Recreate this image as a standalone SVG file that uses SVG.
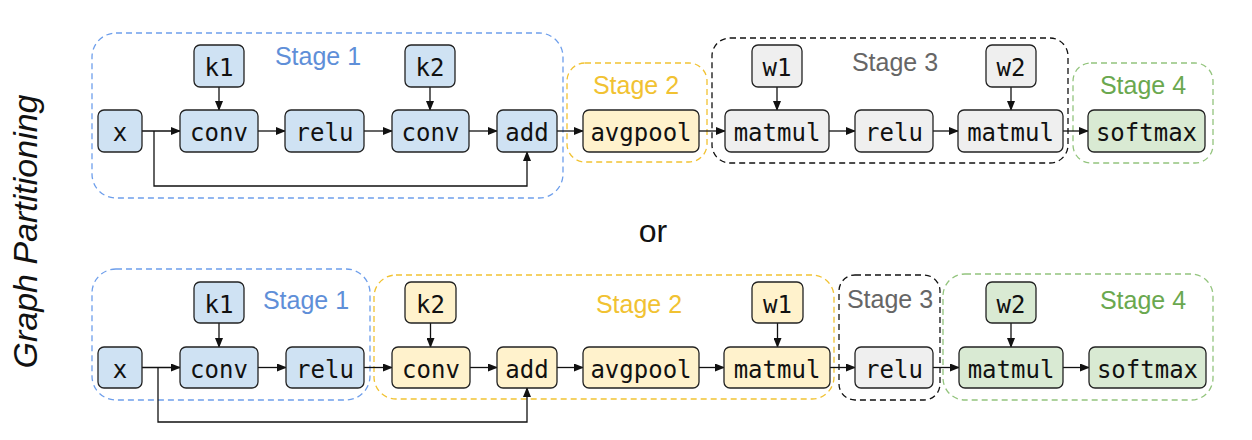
<svg xmlns="http://www.w3.org/2000/svg" width="1252" height="440" viewBox="0 0 1252 440">
<style>
.n rect{stroke:#222;stroke-width:1.3}
.n text{font-family:"DejaVu Sans Mono",monospace;font-size:24px;fill:#111;text-anchor:middle}
.b rect{fill:#cfe2f3}.y rect{fill:#fff2cc}.g rect{fill:#d9ead3}.k rect{fill:#efefef}
.st{fill:none;stroke-width:1.3;stroke-dasharray:6 4}
.lab{font-family:"Liberation Sans",Arial,sans-serif;font-size:25px;text-anchor:middle}
#conn path{fill:none;stroke:#111;stroke-width:1.3}
</style>
<defs>
<marker id="ah" markerWidth="10" markerHeight="8" refX="9" refY="4" orient="auto" markerUnits="userSpaceOnUse"><path d="M0,0 L10,4 L0,8 z" fill="#111"/></marker>
</defs>
<rect width="1252" height="440" fill="#fff"/>
<text transform="translate(36.5,231.5) rotate(-90)" font-family="'Liberation Sans',Arial,sans-serif" font-style="italic" font-size="34" text-anchor="middle" fill="#111">Graph Partitioning</text>
<text x="653" y="242" font-family="'Liberation Sans',Arial,sans-serif" font-size="32" text-anchor="middle" fill="#111">or</text>
<g id="stages">
<rect class="st" x="92" y="33" width="471" height="165" rx="24" stroke="#6d9eeb"/>
<text class="lab" x="318" y="65" fill="#5f8fd8">Stage 1</text>
<rect class="st" x="567" y="63" width="140" height="99" rx="18" stroke="#f1c232"/>
<text class="lab" x="636" y="94" fill="#f1c232">Stage 2</text>
<rect class="st" x="712" y="38" width="356" height="125" rx="18" stroke="#111"/>
<text class="lab" x="895" y="71" fill="#666">Stage 3</text>
<rect class="st" x="1073" y="63" width="140" height="100" rx="18" stroke="#93c47d"/>
<text class="lab" x="1143" y="94" fill="#6aa84f">Stage 4</text>
<rect class="st" x="92" y="269" width="278" height="131" rx="24" stroke="#6d9eeb"/>
<text class="lab" x="306" y="309" fill="#5f8fd8">Stage 1</text>
<rect class="st" x="374" y="275" width="460" height="124" rx="22" stroke="#f1c232"/>
<text class="lab" x="639" y="313" fill="#f1c232">Stage 2</text>
<rect class="st" x="839" y="275" width="101" height="125" rx="16" stroke="#111"/>
<text class="lab" x="890" y="308" fill="#666">Stage 3</text>
<rect class="st" x="943" y="274" width="270" height="126" rx="22" stroke="#93c47d"/>
<text class="lab" x="1143" y="309" fill="#6aa84f">Stage 4</text>
</g>
<g id="conn">
<path d="M142,131 H180" marker-end="url(#ah)"/>
<path d="M258,131 H285" marker-end="url(#ah)"/>
<path d="M364,131 H392" marker-end="url(#ah)"/>
<path d="M469,131 H497" marker-end="url(#ah)"/>
<path d="M557,131 H583" marker-end="url(#ah)"/>
<path d="M699,131 H725" marker-end="url(#ah)"/>
<path d="M829,131 H855" marker-end="url(#ah)"/>
<path d="M933,131 H958" marker-end="url(#ah)"/>
<path d="M1063,131 H1088" marker-end="url(#ah)"/>
<path d="M219,87 V110" marker-end="url(#ah)"/>
<path d="M430,87 V110" marker-end="url(#ah)"/>
<path d="M777,87 V110" marker-end="url(#ah)"/>
<path d="M1011,87 V110" marker-end="url(#ah)"/>
<path d="M154,131 V186 H527 V152" marker-end="url(#ah)"/>
<path d="M142,367.5 H180" marker-end="url(#ah)"/>
<path d="M258,367.5 H286" marker-end="url(#ah)"/>
<path d="M364,367.5 H392" marker-end="url(#ah)"/>
<path d="M470,367.5 H497" marker-end="url(#ah)"/>
<path d="M557,367.5 H583" marker-end="url(#ah)"/>
<path d="M699,367.5 H724" marker-end="url(#ah)"/>
<path d="M830,367.5 H855" marker-end="url(#ah)"/>
<path d="M933,367.5 H959" marker-end="url(#ah)"/>
<path d="M1063,367.5 H1089" marker-end="url(#ah)"/>
<path d="M219,323 V347" marker-end="url(#ah)"/>
<path d="M430.5,323 V347" marker-end="url(#ah)"/>
<path d="M777.5,323 V347" marker-end="url(#ah)"/>
<path d="M1011,323 V347" marker-end="url(#ah)"/>
<path d="M158,367.5 V422 H527 V388" marker-end="url(#ah)"/>
</g>
<g id="t-x" class="n b"><rect x="98" y="110" width="44" height="42" rx="6"/><text x="120" y="141">x</text></g>
<g id="t-k1" class="n b"><rect x="194" y="45" width="50" height="42" rx="6"/><text x="219" y="76">k1</text></g>
<g id="t-conv1" class="n b"><rect x="180" y="110" width="78" height="42" rx="6"/><text x="219" y="141">conv</text></g>
<g id="t-relu1" class="n b"><rect x="285" y="110" width="79" height="42" rx="6"/><text x="324.5" y="141">relu</text></g>
<g id="t-k2" class="n b"><rect x="405" y="45" width="50" height="42" rx="6"/><text x="430" y="76">k2</text></g>
<g id="t-conv2" class="n b"><rect x="392" y="110" width="77" height="42" rx="6"/><text x="430.5" y="141">conv</text></g>
<g id="t-add" class="n b"><rect x="497" y="110" width="60" height="42" rx="6"/><text x="527" y="141">add</text></g>
<g id="t-avgpool" class="n y"><rect x="583" y="110" width="116" height="42" rx="6"/><text x="641" y="141">avgpool</text></g>
<g id="t-w1" class="n k"><rect x="752" y="45" width="50" height="42" rx="6"/><text x="777" y="76">w1</text></g>
<g id="t-matmul1" class="n k"><rect x="725" y="110" width="104" height="42" rx="6"/><text x="777" y="141">matmul</text></g>
<g id="t-relu2" class="n k"><rect x="855" y="110" width="78" height="42" rx="6"/><text x="894" y="141">relu</text></g>
<g id="t-w2" class="n k"><rect x="986" y="45" width="50" height="42" rx="6"/><text x="1011" y="76">w2</text></g>
<g id="t-matmul2" class="n k"><rect x="958" y="110" width="105" height="42" rx="6"/><text x="1010.5" y="141">matmul</text></g>
<g id="t-softmax" class="n g"><rect x="1088" y="110" width="117" height="42" rx="6"/><text x="1146.5" y="141">softmax</text></g>
<g id="b-x" class="n b"><rect x="98" y="347" width="44" height="41" rx="6"/><text x="120" y="377.5">x</text></g>
<g id="b-k1" class="n b"><rect x="194" y="282" width="50" height="41" rx="6"/><text x="219" y="312.5">k1</text></g>
<g id="b-conv1" class="n b"><rect x="180" y="347" width="78" height="41" rx="6"/><text x="219" y="377.5">conv</text></g>
<g id="b-relu1" class="n b"><rect x="286" y="347" width="78" height="41" rx="6"/><text x="325" y="377.5">relu</text></g>
<g id="b-k2" class="n y"><rect x="405" y="282" width="51" height="41" rx="6"/><text x="430.5" y="312.5">k2</text></g>
<g id="b-conv2" class="n y"><rect x="392" y="347" width="78" height="41" rx="6"/><text x="431" y="377.5">conv</text></g>
<g id="b-add" class="n y"><rect x="497" y="347" width="60" height="41" rx="6"/><text x="527" y="377.5">add</text></g>
<g id="b-avgpool" class="n y"><rect x="583" y="347" width="116" height="41" rx="6"/><text x="641" y="377.5">avgpool</text></g>
<g id="b-w1" class="n y"><rect x="752" y="282" width="51" height="41" rx="6"/><text x="777.5" y="312.5">w1</text></g>
<g id="b-matmul1" class="n y"><rect x="724" y="347" width="106" height="41" rx="6"/><text x="777" y="377.5">matmul</text></g>
<g id="b-relu2" class="n k"><rect x="855" y="347" width="78" height="41" rx="6"/><text x="894" y="377.5">relu</text></g>
<g id="b-w2" class="n g"><rect x="986" y="282" width="50" height="41" rx="6"/><text x="1011" y="312.5">w2</text></g>
<g id="b-matmul2" class="n g"><rect x="959" y="347" width="104" height="41" rx="6"/><text x="1011" y="377.5">matmul</text></g>
<g id="b-softmax" class="n g"><rect x="1089" y="347" width="117" height="41" rx="6"/><text x="1147.5" y="377.5">softmax</text></g>
</svg>
